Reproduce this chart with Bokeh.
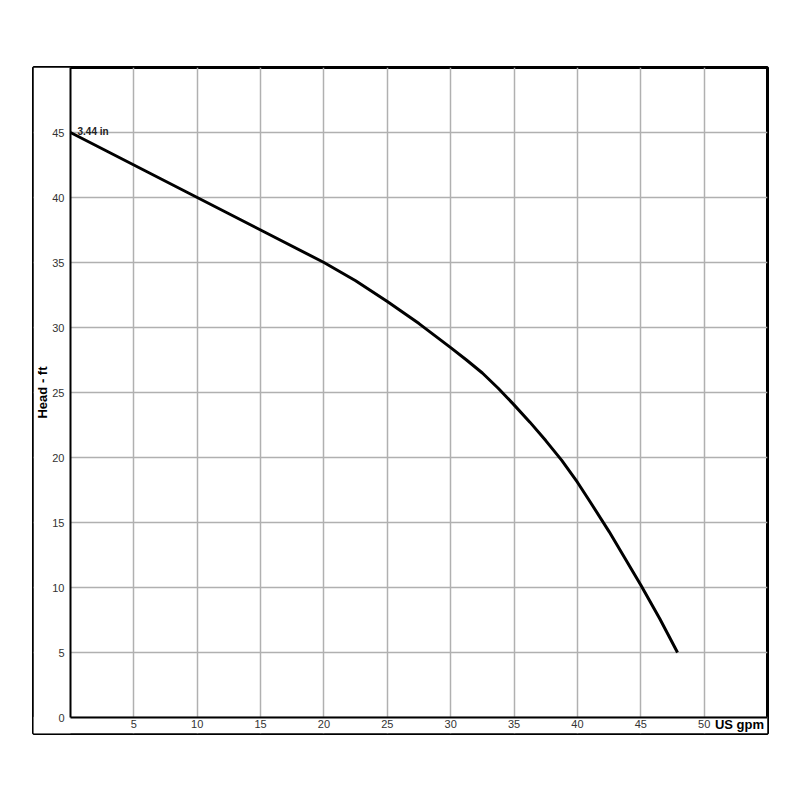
from bokeh.plotting import figure
from bokeh.models import FixedTicker, Range1d, Label, BoxAnnotation
from bokeh.embed import file_html
from bokeh.resources import INLINE

# Data
flow_gpm = [0, 5, 10, 15, 20, 22.5, 25, 27.5, 30, 31.25, 32.5, 33.75, 35, 36.25, 37.5,
            38.75, 40, 41, 42.5, 45, 46.5, 47.9]
head_ft = [45, 42.5, 40, 37.5, 35.0, 33.6, 32.0, 30.3, 28.45, 27.5, 26.5, 25.33, 24.05, 22.72, 21.3,
           19.8, 18.1, 16.6, 14.3, 10.2, 7.6, 5.0]
x_ticks = [5, 10, 15, 20, 25, 30, 35, 40, 45, 50]
y_ticks = [0, 5, 10, 15, 20, 25, 30, 35, 40, 45]
x_max, y_max = 55, 50
curve_label = "3.44 in"
x_title = "US gpm"
y_title = "Head - ft"

# outer box frame: the axes sit inside it at x=0 / y=0
x_pad = 37 / (697 / x_max)
y_pad = 16 / (650 / y_max)

p = figure(width=775, height=745, output_backend="svg", toolbar_location=None,
           x_range=Range1d(-x_pad, x_max), y_range=Range1d(-y_pad, y_max),
           min_border_left=33, min_border_right=8, min_border_top=67, min_border_bottom=12)

p.outline_line_color = "black"
p.outline_line_width = 3

for ax in (p.xaxis[0], p.yaxis[0]):
    ax.fixed_location = 0
    ax.axis_line_color = "black"
    ax.axis_line_width = 2
    ax.major_tick_line_color = None
    ax.minor_tick_line_color = None
    ax.major_label_text_font = "Liberation Sans"
    ax.major_label_text_font_size = "11px"
    ax.major_label_text_color = "#333333"

p.xaxis.bounds = (0, x_max)
p.yaxis.bounds = (0, y_max)
p.xaxis.ticker = FixedTicker(ticks=x_ticks)
p.yaxis.ticker = FixedTicker(ticks=y_ticks)
p.xaxis.major_label_standoff = -4
p.yaxis.major_label_standoff = 0

p.yaxis.axis_label = y_title
p.yaxis.axis_label_text_font = "Liberation Sans"
p.yaxis.axis_label_text_font_style = "bold"
p.yaxis.axis_label_text_font_size = "13px"
p.yaxis.axis_label_text_color = "black"
p.yaxis.axis_label_standoff = -1

p.xgrid.ticker = FixedTicker(ticks=x_ticks)
p.ygrid.ticker = FixedTicker(ticks=y_ticks)
p.grid.grid_line_color = "#b0b0b0"
p.grid.grid_line_width = 1.5

# keep the grid inside the axes
p.add_layout(BoxAnnotation(right=0, fill_color="white", fill_alpha=1, line_color=None, level="underlay"))
p.add_layout(BoxAnnotation(top=0, fill_color="white", fill_alpha=1, line_color=None, level="underlay"))

p.line(flow_gpm, head_ft, line_color="black", line_width=3, line_join="round")

p.add_layout(Label(x=flow_gpm[0], y=head_ft[0], text=curve_label, x_offset=7, y_offset=1,
                   text_font="Liberation Sans", text_font_size="10px", text_font_style="bold",
                   text_color="#222222", text_baseline="alphabetic"))

p.add_layout(Label(x=50.85, y=-0.55, text=x_title,
                   text_font="Liberation Sans", text_font_size="13px", text_font_style="bold",
                   text_color="black", text_baseline="middle", text_align="left"))

open("out.html", "w").write(file_html(p, INLINE))
